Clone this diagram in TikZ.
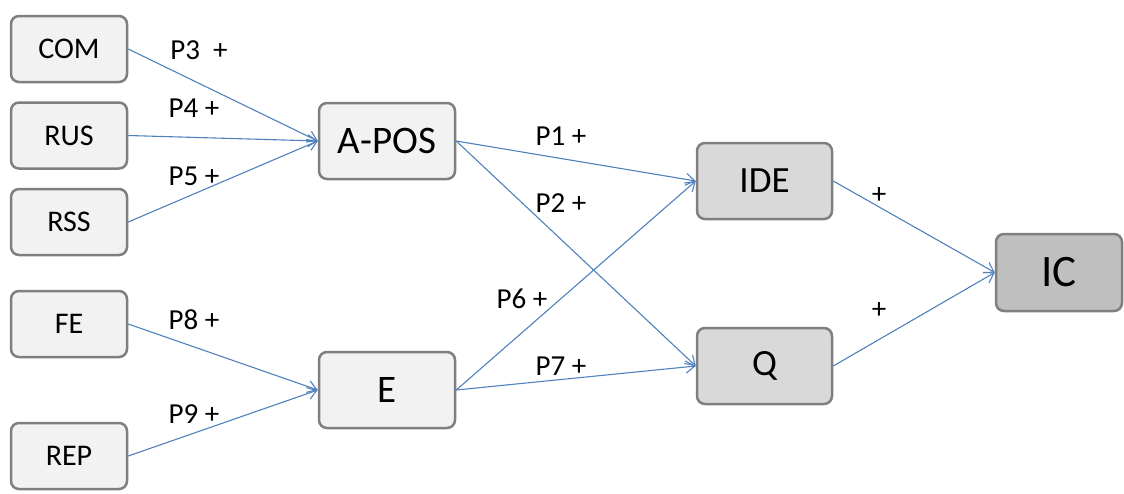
\documentclass[tikz,border=0pt]{standalone}
\usepackage{fontspec}
\setmainfont{Carlito}
\usetikzlibrary{arrows.meta}

\definecolor{rand}{HTML}{7F7F7F}
\definecolor{hell}{HTML}{F2F2F2}
\definecolor{mittel}{HTML}{D9D9D9}
\definecolor{dunkel}{HTML}{BFBFBF}
\definecolor{pfeil}{HTML}{4F81BD}

\tikzset{
  box/.style={draw=rand, line width=2.5pt, rounded corners=8pt, inner sep=0pt},
  klein/.style={box, fill=hell, minimum width=116pt, minimum height=66pt,
    font=\fontsize{30}{36}\selectfont},
  mitte/.style={box, fill=hell, minimum width=136pt, minimum height=76pt,
    font=\fontsize{39}{46}\selectfont},
  rechts/.style={box, fill=mittel, minimum width=135pt, minimum height=76pt,
    font=\fontsize{37}{44}\selectfont},
  ziel/.style={box, fill=dunkel, minimum width=126pt, minimum height=77pt,
    font=\fontsize{45}{52}\selectfont},
  kante/.style={draw=pfeil, line width=1.1pt, -{Straight Barb[length=9pt,width=12pt]}},
  pfad/.style={font=\fontsize{29}{34}\selectfont, inner sep=0pt}
}

\begin{document}
\begin{tikzpicture}[x=1pt,y=-1pt]
    \useasboundingbox (0,0) rectangle (1124,493);

    % Einflussfaktoren links
    \node[klein] (com) at (69,49) {COM};
    \node[klein] (rus) at (69,135.5) {RUS};
    \node[klein] (rss) at (69,222) {RSS};
    \node[klein] (fe) at (69,324) {FE};
    \node[klein] (rep) at (69,456) {REP};

    % Mittlere Ebene
    \node[mitte] (apos) at (387,141) {A-POS};
    \node[mitte] (e) at (387,390) {E};

    % Rechte Ebene
    \node[rechts] (ide) at (764.5,181) {IDE};
    \node[rechts] (q) at (764.5,366) {Q};
    \node[ziel] (ic) at (1059,272.5) {IC};

    % Pfeile
    \draw[kante] (com.east) -- (apos.west);
    \draw[kante] (rus.east) -- (apos.west);
    \draw[kante] (rss.east) -- (apos.west);
    \draw[kante] (fe.east) -- (e.west);
    \draw[kante] (rep.east) -- (e.west);
    \draw[kante] (apos.east) -- (ide.west);
    \draw[kante] (apos.east) -- (q.west);
    \draw[kante] (e.east) -- (ide.west);
    \draw[kante] (e.east) -- (q.west);
    \draw[kante] (ide.east) -- (ic.west);
    \draw[kante] (q.east) -- (ic.west);

    % Pfadbeschriftungen
    \node[pfad] (p3) at (199,50) {P3\ \ +};
    \node[pfad] (p4) at (194,108) {P4 +};
    \node[pfad] (p5) at (194,176) {P5 +};
    \node[pfad] (p8) at (194,320) {P8 +};
    \node[pfad] (p9) at (194,414) {P9 +};
    \node[pfad] (p1) at (561,136) {P1 +};
    \node[pfad] (p2) at (561,203) {P2 +};
    \node[pfad] (p6) at (522,299) {P6 +};
    \node[pfad] (p7) at (561,366) {P7 +};
    \node[pfad] (plus1) at (879,196) {+};
    \node[pfad] (plus2) at (879,311) {+};
\end{tikzpicture}
\end{document}
